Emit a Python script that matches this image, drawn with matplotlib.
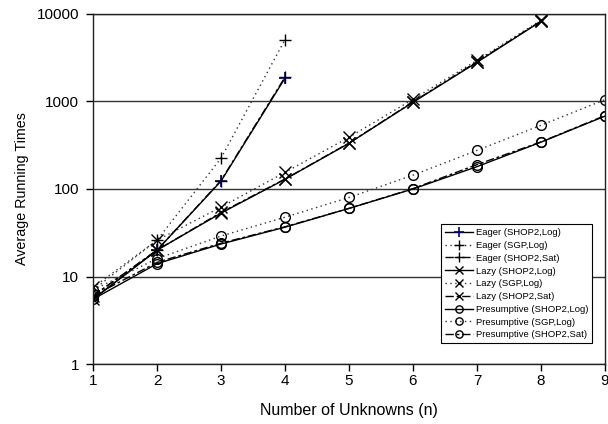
import numpy as np
import matplotlib
matplotlib.use("Agg")
import matplotlib.pyplot as plt

plt.rcParams['font.family'] = ['Liberation Sans', 'DejaVu Sans']

# values (log scale)
n_eager = [1, 2, 3, 4]
n_all = [1, 2, 3, 4, 5, 6, 7, 8]
n_pres = [1, 2, 3, 4, 5, 6, 7, 8, 9]

eager_shop2_log = [5.5, 20, 123, 1850]
eager_sgp_log = [7.0, 26, 225, 5100]
eager_shop2_sat = [6.0, 20, 125, 1900]

lazy_shop2_log = [5.5, 20, 53, 129, 333, 980, 2800, 8250]
lazy_sgp_log = [7.5, 26, 62, 155, 390, 1060, 2950, 8500]
lazy_shop2_sat = [6.0, 20, 54, 130, 335, 990, 2850, 8300]

pres_shop2_log = [5.5, 14, 23.5, 36.6, 60, 100, 180, 343, 680]
pres_sgp_log = [7.0, 16, 29, 47.6, 80, 144, 276, 535, 1050]
pres_shop2_sat = [6.0, 14.5, 24, 37, 60, 101, 190, 345, 690]

labels = ["Eager (SHOP2,Log)", "Eager (SGP,Log)", "Eager (SHOP2,Sat)",
          "Lazy (SHOP2,Log)", "Lazy (SGP,Log)", "Lazy (SHOP2,Sat)",
          "Presumptive (SHOP2,Log)", "Presumptive (SGP,Log)", "Presumptive (SHOP2,Sat)"]

solid = '-'
dotted = (0, (1, 2.5))
dashed = (0, (6, 2, 2, 2))

fig = plt.figure(figsize=(6.08, 4.24), dpi=100)
ax = fig.add_axes([0.153, 0.1415, 0.842, 0.8255])

ax.plot(n_eager, eager_shop2_log, color='black', ls=solid, lw=1, marker='+', ms=9,
        mec='#000080', mew=1.2, label=labels[0])
ax.plot(n_eager, eager_sgp_log, color='#333333', ls=dotted, lw=1, marker='+', ms=9,
        mec='black', mew=1, label=labels[1])
ax.plot(n_eager, eager_shop2_sat, color='black', ls=dashed, lw=1, marker='+', ms=9,
        mec='black', mew=1, label=labels[2])

ax.plot(n_all, lazy_shop2_log, color='black', ls=solid, lw=1, marker='x', ms=8,
        mec='black', mew=1, label=labels[3])
ax.plot(n_all, lazy_sgp_log, color='#333333', ls=dotted, lw=1, marker='x', ms=8,
        mec='black', mew=1, label=labels[4])
ax.plot(n_all, lazy_shop2_sat, color='black', ls=dashed, lw=1, marker='x', ms=8,
        mec='black', mew=1, label=labels[5])

ax.plot(n_pres, pres_shop2_log, color='black', ls=solid, lw=1, marker='o', ms=7,
        mfc='none', mec='black', mew=1, label=labels[6])
ax.plot(n_pres, pres_sgp_log, color='#333333', ls=dotted, lw=1, marker='o', ms=7,
        mfc='none', mec='black', mew=1, label=labels[7])
ax.plot(n_pres, pres_shop2_sat, color='black', ls=dashed, lw=1, marker='o', ms=7,
        mfc='none', mec='black', mew=1, label=labels[8])

ax.set_yscale('log')
ax.set_ylim(1, 10000)
ax.set_xlim(1, 9)
ax.set_yticks([1, 10, 100, 1000, 10000])
ax.set_yticklabels(['1', '10', '100', '1000', '10000'])
ax.minorticks_off()
ax.set_xticks(range(1, 10))
ax.yaxis.grid(True, color='#333333', lw=1)
ax.set_axisbelow(True)
for s in ax.spines.values():
    s.set_color('#222222')
    s.set_linewidth(1)
ax.tick_params(axis='both', direction='out', length=5, width=1, labelsize=11, colors='black')
ax.tick_params(axis='y', pad=5)
ax.tick_params(axis='x', pad=2)

ax.set_xlabel("Number of Unknowns (n)", fontsize=11.5)
ax.set_ylabel("Average Running Times", fontsize=10.3)
ax.xaxis.set_label_coords(0.5, -0.112)
ax.yaxis.set_label_coords(-0.125, 0.5)

leg = ax.legend(loc='lower right', bbox_to_anchor=(0.984, 0.046), fontsize=6.8,
                frameon=True, fancybox=False, edgecolor='black', framealpha=1,
                handlelength=3.0, borderpad=0.4, labelspacing=0.4, handletextpad=0.3,
                markerscale=0.75)
leg.get_frame().set_linewidth(0.8)

fig.savefig("out.png", dpi=100)
